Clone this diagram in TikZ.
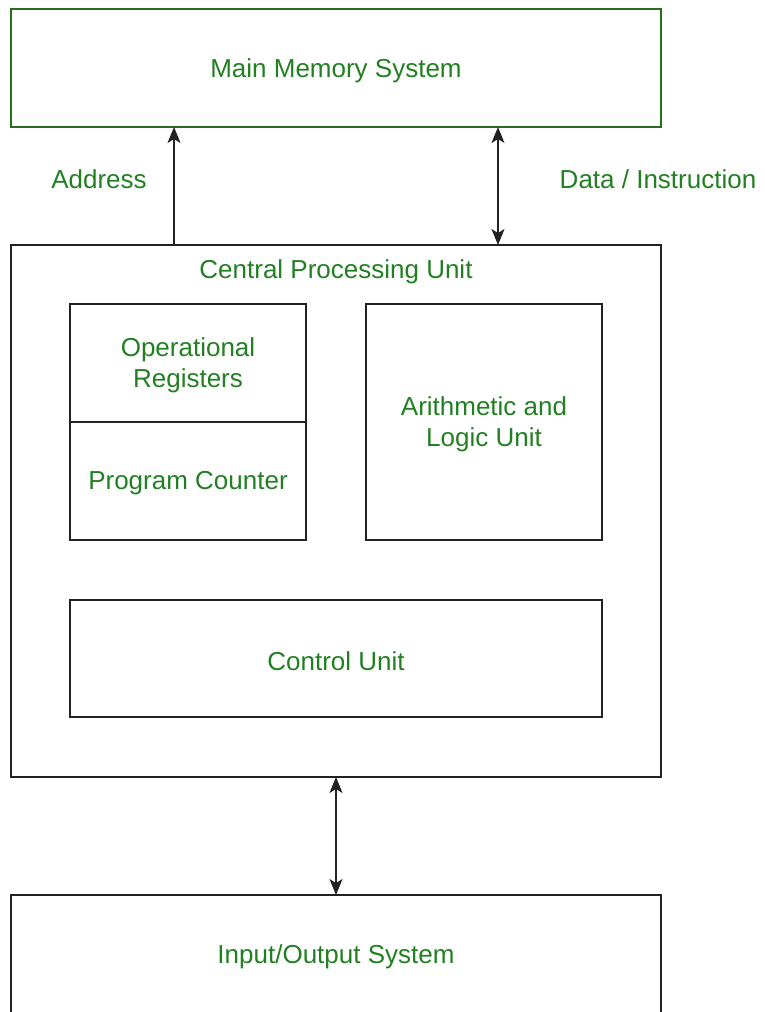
\documentclass[tikz,border=0pt]{standalone}
\usepackage{fontspec}
\setmainfont{Liberation Sans}
\usetikzlibrary{arrows.meta}
\definecolor{labelgreen}{RGB}{34,128,34}
\definecolor{memgreen}{RGB}{40,110,30}
\definecolor{linegray}{RGB}{34,34,34}
\tikzset{
  box/.style={draw=linegray, line width=1.5pt, inner sep=0pt, outer sep=0pt},
  lbl/.style={text=labelgreen, inner sep=0pt, align=center, font=\fontsize{26}{31}\selectfont},
  inlbl/.style={lbl, yshift=-2.5pt},
  tip/.tip={Stealth[length=16pt,width=13pt,inset=4pt]},
  link/.style={draw=linegray, line width=1.5pt},
}
\begin{document}
\begin{tikzpicture}[x=1pt,y=-1pt]
\useasboundingbox (0,0) rectangle (764,1012);
% memory
\node[box, draw=memgreen, minimum width=650pt, minimum height=118pt,
  label={[inlbl]center:Main Memory System}] (mem) at (336,68) {};
% processor and its parts
\node[box, minimum width=650pt, minimum height=532pt] (cpu) at (336,511) {};
\node[lbl] (cputitle) at (336,271.5) {Central Processing Unit};
\node[box, minimum width=236pt, minimum height=118pt,
  label={[inlbl]center:{Operational\\Registers}}] (opreg) at (188,363) {};
\node[box, minimum width=236pt, minimum height=118pt,
  label={[inlbl]center:Program Counter}] (pc) at (188,481) {};
\node[box, minimum width=236pt, minimum height=236pt,
  label={[inlbl]center:{Arithmetic and\\Logic Unit}}] (alu) at (484,422) {};
\node[box, minimum width=532pt, minimum height=117pt,
  label={[inlbl]center:Control Unit}] (cu) at (336,658.5) {};
% input / output
\node[box, minimum width=650pt, minimum height=118pt,
  label={[inlbl]center:Input/Output System}] (io) at (336,954) {};
% buses
\coordinate (addrx) at (174,0);
\coordinate (datax) at (498,0);
\draw[link, -tip] (cpu.north -| addrx) -- (mem.south -| addrx);
\draw[link, tip-tip] (cpu.north -| datax) -- (mem.south -| datax);
\draw[link, tip-tip] (io.north) -- (cpu.south);
\node[lbl] (addrlbl) at (99,179) {Address};
\node[lbl] (datalbl) at (658,179) {Data / Instruction};
\end{tikzpicture}
\end{document}
